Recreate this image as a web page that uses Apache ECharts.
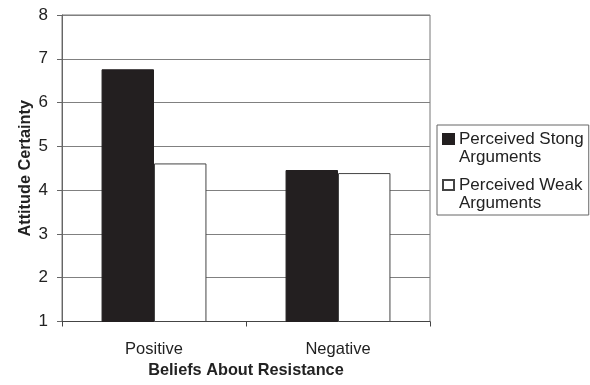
<!DOCTYPE html>
<html>
<head>
<meta charset="utf-8">
<script src="https://cdn.jsdelivr.net/npm/echarts@6/dist/echarts.min.js"></script>
<style>
html,body{margin:0;padding:0;background:#fff;}
#chart{width:590px;height:385px;}
</style>
</head>
<body>
<div id="chart"></div>
<script>
var categories = ['Positive', 'Negative'];
var seriesNames = ['Perceived Stong\nArguments', 'Perceived Weak\nArguments'];
var strongValues = [6.76, 4.46];
var weakValues = [4.61, 4.39];
var yTicks = [1, 2, 3, 4, 5, 6, 7, 8];

var font = 'Liberation Sans, Arial, sans-serif';
var legendIcon = 'path://M0,0M0,37M0,4L11,4L11,14L0,14Z';
var chart = echarts.init(document.getElementById('chart'), null, {renderer: 'canvas'});
chart.setOption({
  animation: false,
  backgroundColor: '#fff',
  textStyle: {fontFamily: font},
  grid: {left: 62, right: 160, top: 15, bottom: 63.5, show: true, borderColor: '#777', borderWidth: 1, backgroundColor: 'transparent', containLabel: false},
  legend: {
    orient: 'vertical',
    left: 437, top: 125,
    padding: [4, 5, 1, 5],
    itemGap: 7,
    itemWidth: 11, itemHeight: 37,
    borderColor: '#666', borderWidth: 1,
    icon: legendIcon,
    textStyle: {fontFamily: font, fontSize: 17, color: '#222', lineHeight: 18.5},
    data: seriesNames
  },
  xAxis: {
    type: 'category',
    data: categories,
    axisLine: {lineStyle: {color: '#444', width: 1}},
    axisTick: {show: true, length: 5, lineStyle: {color: '#444'}},
    axisLabel: {fontSize: 16.5, color: '#222', margin: 19, fontFamily: font},
    name: 'Beliefs About Resistance',
    nameLocation: 'middle',
    nameGap: 41,
    nameMoveOverlap: false,
    nameTextStyle: {fontSize: 16.3, fontWeight: 'bold', color: '#222', fontFamily: font}
  },
  yAxis: {
    type: 'value',
    min: yTicks[0], max: yTicks[yTicks.length - 1], interval: 1,
    axisLine: {show: true, lineStyle: {color: '#666', width: 1}},
    axisTick: {show: true, length: 5, lineStyle: {color: '#666'}},
    axisLabel: {fontSize: 17, color: '#222', margin: 14, fontFamily: font},
    splitLine: {lineStyle: {color: '#808080', width: 1}},
    name: 'Attitude Certainty',
    nameLocation: 'middle',
    nameRotate: 90,
    nameGap: 28,
    nameMoveOverlap: false,
    nameTextStyle: {fontSize: 16.3, fontWeight: 'bold', color: '#222', fontFamily: font}
  },
  series: [
    {
      name: seriesNames[0], type: 'bar', data: strongValues,
      barGap: '0%', barCategoryGap: '43%',
      itemStyle: {color: '#231f20', borderColor: '#231f20', borderWidth: 1}
    },
    {
      name: seriesNames[1], type: 'bar', data: weakValues,
      barGap: '0%', barCategoryGap: '43%',
      itemStyle: {color: '#ffffff', borderColor: '#444', borderWidth: 1}
    }
  ]
});
</script>
</body>
</html>
